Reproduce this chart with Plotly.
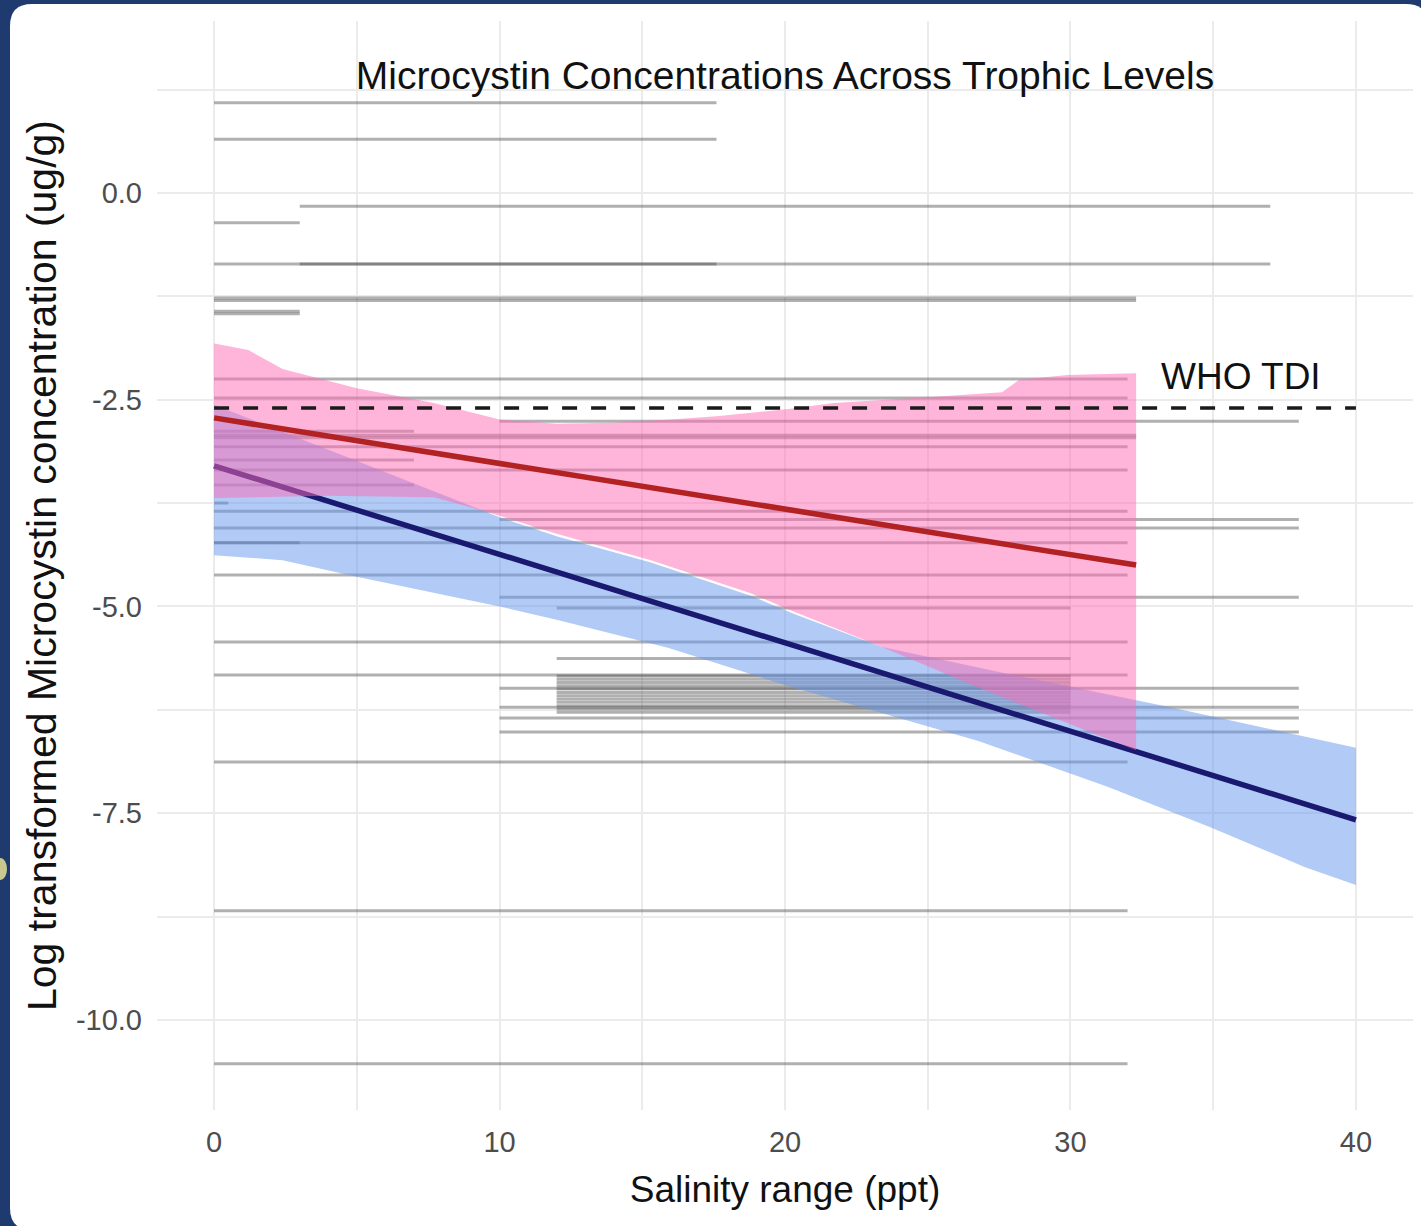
import plotly.graph_objects as go

# ---------------- data ----------------
# horizontal salinity-range segments: concentration, salinity min, salinity max
seg_conc = [1.09, 0.65, -0.16, -0.36, -0.86, -0.86, -1.27, -1.30, -1.43, -1.46,
            -2.25, -2.48, -2.76, -2.88, -2.93, -2.96, -3.07, -3.23, -3.35, -3.53,
            -3.75, -3.85, -3.95, -4.05, -4.23, -4.23, -4.62, -4.89, -5.02, -5.43,
            -5.63, -5.83, -5.84, -5.88, -5.92, -5.96, -6.00, -6.04, -6.08, -6.12,
            -6.16, -6.20, -6.24, -6.28, -5.99, -6.22, -6.35, -6.52, -6.88, -8.68, -10.53]
seg_xmin = [0, 0, 3, 0, 0, 3, 0, 0, 0, 0,
            0, 0, 10, 0, 0, 0, 0, 0, 0, 0,
            0, 0, 10, 0, 0, 0, 0, 10, 12, 0,
            12, 0, 12, 12, 12, 12, 12, 12, 12, 12,
            12, 12, 12, 12, 10, 10, 10, 10, 0, 0, 0]
seg_xmax = [17.6, 17.6, 37, 3, 17.6, 37, 32.3, 32.3, 3, 3,
            32, 32, 38, 7, 32.3, 32.3, 32, 7, 32, 7,
            0.5, 32, 38, 38, 32, 3, 32, 38, 30, 32,
            30, 32, 30, 30, 30, 30, 30, 30, 30, 30,
            30, 30, 30, 30, 38, 38, 38, 38, 32, 32, 32]

# fitted trend lines
red_x = [0, 32.3]
red_y = [-2.72, -4.50]
blue_x = [0, 40]
blue_y = [-3.30, -7.58]

# confidence ribbons
pink_up_x = [0, 1.2, 2.4, 5.0, 7.7, 10, 12, 14, 16, 17.6, 20.2, 21.7, 24.6, 27.6, 28.2, 29.9, 32.3]
pink_up_y = [-1.82, -1.90, -2.13, -2.36, -2.54, -2.74, -2.79, -2.78, -2.74, -2.70, -2.61, -2.54,
             -2.48, -2.41, -2.26, -2.20, -2.18]
pink_lo_x = [0, 4, 7.7, 9.4, 12, 15.3, 18.8, 20.3, 23.4, 26.9, 32.3]
pink_lo_y = [-3.69, -3.66, -3.68, -3.84, -4.12, -4.44, -4.84, -5.06, -5.49, -6.00, -6.74]

blue_up_x = [0, 5, 10, 12, 15.3, 18.8, 20.3, 23.4, 28, 33.5, 40]
blue_up_y = [-2.56, -3.24, -3.92, -4.15, -4.47, -4.87, -5.09, -5.49, -5.83, -6.22, -6.71]
blue_lo_x = [0, 2.4, 5, 10, 12, 15.9, 20, 26.8, 31.3, 34.9, 38.2, 40]
blue_lo_y = [-4.38, -4.44, -4.64, -5.0, -5.16, -5.50, -5.95, -6.63, -7.18, -7.67, -8.15, -8.37]

who_tdi = -2.6
who_x = [0, 40]

x_ticks = [0, 10, 20, 30, 40]
x_ticktext = ["0", "10", "20", "30", "40"]
y_ticks = [0, -2.5, -5, -7.5, -10]
y_ticktext = ["0.0", "-2.5", "-5.0", "-7.5", "-10.0"]

# ---------------- figure ----------------
W, H = 1421, 1226
L, R, T, B = 157, 8, 21, 116
plot_w = W - L - R
plot_h = H - T - B

FONT = "Liberation Sans, Arial, Helvetica, sans-serif"

fig = go.Figure()

for c, x0, x1 in zip(seg_conc, seg_xmin, seg_xmax):
    fig.add_trace(go.Scatter(x=[x0, x1], y=[c, c], mode="lines",
                             line=dict(color="rgba(80,80,80,0.45)", width=3),
                             hoverinfo="skip", showlegend=False))

# blue ribbon + line
fig.add_trace(go.Scatter(x=blue_up_x + blue_lo_x[::-1], y=blue_up_y + blue_lo_y[::-1],
                         fill="toself", fillcolor="rgba(100,149,237,0.5)",
                         line=dict(width=0), mode="lines", hoverinfo="skip", showlegend=False))
fig.add_trace(go.Scatter(x=blue_x, y=blue_y, mode="lines",
                         line=dict(color="#191970", width=5.5), showlegend=False))
# pink ribbon + line
fig.add_trace(go.Scatter(x=pink_up_x + pink_lo_x[::-1], y=pink_up_y + pink_lo_y[::-1],
                         fill="toself", fillcolor="rgba(255,105,180,0.5)",
                         line=dict(width=0), mode="lines", hoverinfo="skip", showlegend=False))
fig.add_trace(go.Scatter(x=red_x, y=red_y, mode="lines",
                         line=dict(color="#B22222", width=5.5), showlegend=False))
# WHO TDI
fig.add_trace(go.Scatter(x=who_x, y=[who_tdi, who_tdi], mode="lines",
                         line=dict(color="#1a1a1a", width=3.5, dash="15px,14px"),
                         showlegend=False))
fig.add_annotation(x=35.97, y=-2.22, xref="x", yref="y", text="WHO TDI", showarrow=False,
                   font=dict(family=FONT, size=37, color="#111111"),
                   xanchor="center", yanchor="middle")

# background card
def px2paper(px, py):
    return (px - L) / plot_w, (H - B - py) / plot_h

x0p, y0p = px2paper(10, 4)
x1p, y1p = px2paper(1428, 1230)
rx = 22 / plot_w
ry = 22 / plot_h
path = (f"M {x0p+rx},{y0p} L {x1p-rx},{y0p} Q {x1p},{y0p} {x1p},{y0p-ry} "
        f"L {x1p},{y1p+ry} Q {x1p},{y1p} {x1p-rx},{y1p} L {x0p+rx},{y1p} "
        f"Q {x0p},{y1p} {x0p},{y1p+ry} L {x0p},{y0p-ry} Q {x0p},{y0p} {x0p+rx},{y0p} Z")
fig.add_shape(type="path", path=path, xref="paper", yref="paper",
              fillcolor="white", line=dict(width=0), layer="below")
ex0, ey0 = px2paper(-6, 858)
ex1, ey1 = px2paper(7, 880)
fig.add_shape(type="circle", x0=ex0, y0=ey0, x1=ex1, y1=ey1, xref="paper", yref="paper",
              fillcolor="#c9c98f", line=dict(width=0), layer="below")

grid = "#ebebeb"
fig.update_layout(
    width=W, height=H,
    margin=dict(l=L, r=R, t=T, b=B, pad=0),
    paper_bgcolor="#1e3a6f",
    plot_bgcolor="rgba(0,0,0,0)",
    showlegend=False,
    title=dict(text="Microcystin Concentrations Across Trophic Levels",
               x=785 / W, y=1 - 75 / H, xref="container", yref="container",
               xanchor="center", yanchor="middle",
               font=dict(family=FONT, size=39, color="#111111")),
    xaxis=dict(range=[-2, 42], tickvals=x_ticks, ticktext=x_ticktext,
               showgrid=True, gridcolor=grid, gridwidth=2, zeroline=False,
               showline=False, ticks="", ticklabelstandoff=12,
               tickfont=dict(family=FONT, size=29, color="#4d4d4d"),
               minor=dict(tickvals=[5, 15, 25, 35], showgrid=True, gridcolor=grid, gridwidth=1.5),
               title=dict(text="Salinity range (ppt)", standoff=19,
                          font=dict(family=FONT, size=37, color="#111111"))),
    yaxis=dict(range=[-11.09, 2.08], tickvals=y_ticks, ticktext=y_ticktext,
               showgrid=True, gridcolor=grid, gridwidth=2, zeroline=False,
               showline=False, ticks="", ticklabelstandoff=14,
               tickfont=dict(family=FONT, size=29, color="#4d4d4d"),
               minor=dict(tickvals=[1.25, -1.25, -3.75, -6.25, -8.75], showgrid=True,
                          gridcolor=grid, gridwidth=1.5),
               title=dict(text="Log transformed Microcystin concentration (ug/g)", standoff=6,
                          font=dict(family=FONT, size=41, color="#111111"))),
)

fig.write_html("out.html")
